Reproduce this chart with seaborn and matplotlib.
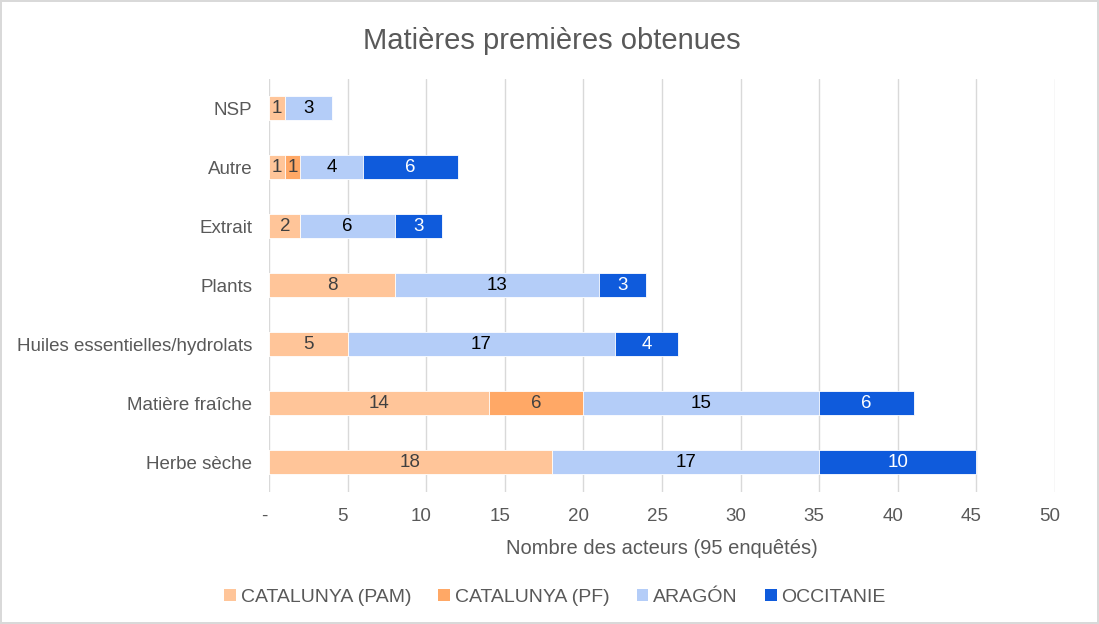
import matplotlib
matplotlib.use("Agg")
import matplotlib.pyplot as plt
import matplotlib.transforms as mtransforms
from matplotlib.patches import Patch
import numpy as np
import pandas as pd
import seaborn as sns

# Données
categories = ["NSP", "Autre", "Extrait", "Plants",
              "Huiles essentielles/hydrolats", "Matière fraîche", "Herbe sèche"]
series_names = ["CATALUNYA (PAM)", "CATALUNYA (PF)", "ARAGÓN", "OCCITANIE"]
catalunya_pam = [1, 1, 2, 8, 5, 14, 18]
catalunya_pf = [0, 1, 0, 0, 0, 6, 0]
aragon = [3, 4, 6, 13, 17, 15, 17]
occitanie = [0, 6, 3, 3, 4, 6, 10]
x_ticks = [0, 5, 10, 15, 20, 25, 30, 35, 40, 45, 50]
x_tick_labels = ["-", "5", "10", "15", "20", "25", "30", "35", "40", "45", "50"]

colors = ["#FFC599", "#FFA866", "#B4CDF8", "#0F5BDC"]
text_colors = ["#404040", "#404040", "#000000", "#FFFFFF"]

sns.set_style("white")
plt.rcParams["font.family"] = ["Liberation Sans", "DejaVu Sans"]

values = [catalunya_pam, catalunya_pf, aragon, occitanie]
cum = np.cumsum(np.array(values), axis=0)

fig = plt.figure(figsize=(10.99, 6.24), dpi=100, edgecolor="#D9D9D9", linewidth=1.5)
ax = fig.add_axes([0.2448, 0.2123, 0.7152, 0.6617])

# Barres empilées : on dessine les cumuls du plus grand au plus petit
for i in range(len(series_names) - 1, -1, -1):
    df = pd.DataFrame({"Catégorie": categories, "Valeur": cum[i]})
    sns.barplot(data=df, y="Catégorie", x="Valeur", order=categories,
                color=colors[i], saturation=1, width=0.41,
                edgecolor="white", linewidth=0.6, ax=ax)

# Étiquettes de valeurs
for i in range(len(series_names)):
    for j, cat in enumerate(categories):
        v = values[i][j]
        if v == 0:
            continue
        ax.text(cum[i][j] - v / 2, j, str(v), ha="center", va="center",
                fontsize=13.5, color=text_colors[i])

ax.set_xlim(0, 50)
ax.set_ylim(6.5, -0.5)
ax.set_xticks(x_ticks)
ax.set_xticklabels(x_tick_labels)
ax.xaxis.grid(True, color="#D9D9D9", linewidth=1)
ax.set_axisbelow(True)
for s in ax.spines.values():
    s.set_visible(False)
ax.tick_params(axis="y", length=0, labelsize=13.5, labelcolor="#595959", pad=12)
ax.tick_params(axis="x", length=0, labelsize=13.5, labelcolor="#595959", pad=12)
offset = mtransforms.ScaledTranslation(-5 / 100, 0, fig.dpi_scale_trans)
for lab in ax.get_xticklabels():
    lab.set_transform(lab.get_transform() + offset)

ax.set_ylabel("")
ax.set_xlabel("Nombre des acteurs (95 enquêtés)", fontsize=14.5, color="#595959", labelpad=10)

fig.text(0.502, 0.935, "Matières premières obtenues", ha="center", va="center",
         fontsize=21, color="#595959")

handles = [Patch(facecolor=c, edgecolor="none") for c in colors]
fig.legend(handles, series_names, loc="center", bbox_to_anchor=(0.505, 0.043), ncol=4,
           frameon=False, fontsize=14, labelcolor="#595959", handlelength=0.6,
           handleheight=0.6, handletextpad=0.25, columnspacing=1.4)

fig.savefig("out.png", dpi=100, edgecolor=fig.get_edgecolor())
